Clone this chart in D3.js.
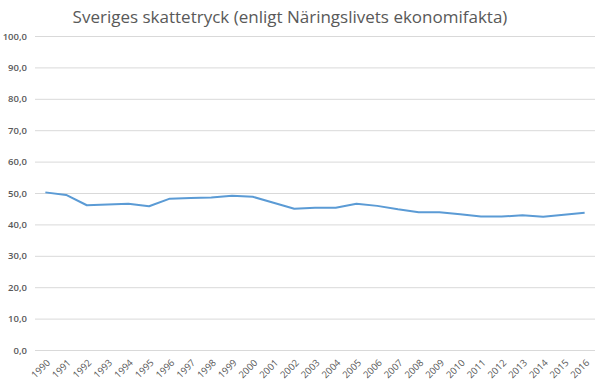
<!DOCTYPE html>
<html>
<head>
<meta charset="utf-8">
<script src="https://cdn.jsdelivr.net/npm/d3@7"></script>
<style>
  body { margin: 0; background: #fff; }
  text { font-family: "Open Sans", sans-serif; fill: #595959; }
</style>
</head>
<body>
<div class="chart"></div>
<script>
var years = ["1990","1991","1992","1993","1994","1995","1996","1997","1998","1999","2000","2001","2002","2003","2004","2005","2006","2007","2008","2009","2010","2011","2012","2013","2014","2015","2016"];
var taxRate = [50.2,49.4,46.1,46.3,46.6,45.8,48.2,48.4,48.6,49.1,48.8,46.9,45.0,45.3,45.3,46.6,45.9,44.8,43.9,43.9,43.2,42.5,42.5,42.9,42.4,43.1,43.7];
var yTicks = [0,10,20,30,40,50,60,70,80,90,100];

var svgWidth = 600, svgHeight = 389;
var margin = {top: 36, right: 5, bottom: 39, left: 35};
var width = svgWidth - margin.left - margin.right;
var height = svgHeight - margin.top - margin.bottom;

var svg = d3.select(".chart").append("svg")
    .attr("width", svgWidth)
    .attr("height", svgHeight);

svg.append("text")
    .attr("x", 290)
    .attr("y", 23)
    .attr("text-anchor", "middle")
    .attr("font-size", "17px")
    .text("Sveriges skattetryck (enligt Näringslivets ekonomifakta)");

var chartGroup = svg.append("g")
    .attr("transform", `translate(${margin.left}, ${margin.top})`);

var x = d3.scaleBand().domain(years).range([0, width]);
var y = d3.scaleLinear().domain([0, 100]).range([height, 0]);

// gridlines
chartGroup.append("g")
    .call(d3.axisLeft(y).tickValues(yTicks).tickSize(-width).tickFormat(""))
    .call(g => g.select(".domain").remove())
    .call(g => g.selectAll("line").attr("stroke", "#d9d9d9"));

// y labels
chartGroup.append("g")
    .call(d3.axisLeft(y).tickValues(yTicks).tickSize(0).tickPadding(8)
        .tickFormat(d => d3.format(".1f")(d).replace(".", ",")))
    .call(g => g.select(".domain").remove())
    .call(g => g.selectAll("text").attr("font-size", "9.5px").attr("fill", "#595959")
        .style("font-family", "Open Sans, sans-serif").attr("font-weight", "600"));

// x labels
chartGroup.append("g")
    .attr("transform", `translate(0,${height})`)
    .call(d3.axisBottom(x).tickSize(0))
    .call(g => g.select(".domain").remove())
    .call(g => g.selectAll("text")
        .attr("font-size", "9.5px")
        .attr("fill", "#595959")
        .style("font-family", "Open Sans, sans-serif")
        .attr("text-anchor", "end")
        .attr("x", 0)
        .attr("y", 0)
        .attr("dy", "0.35em")
        .attr("transform", "translate(3,11) rotate(-45)"));

var line = d3.line()
    .x((d, i) => x(years[i]) + x.bandwidth() / 2)
    .y(d => y(d));

chartGroup.append("path")
    .datum(taxRate)
    .attr("fill", "none")
    .attr("stroke", "#5b9bd5")
    .attr("stroke-width", 2)
    .attr("stroke-linejoin", "round")
    .attr("d", line);
</script>
</body>
</html>
